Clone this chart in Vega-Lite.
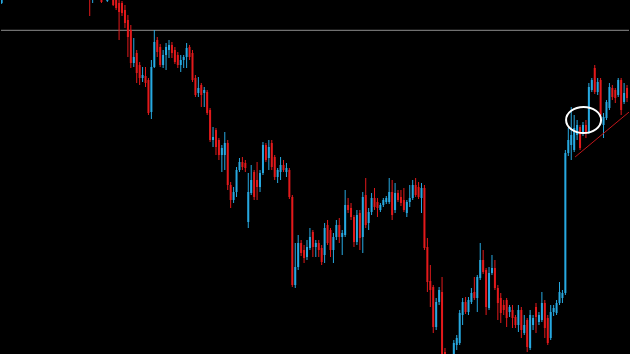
{
  "$schema": "https://vega.github.io/schema/vega-lite/v6.json",
  "width": 630,
  "height": 354,
  "autosize": {"type": "fit", "contains": "padding"},
  "padding": 0,
  "background": "#000000",
  "config": {"view": {"stroke": null}, "scale": {"continuousPadding": 0}},
  "datasets": {
    "level": [{"p": 323.7}],
    "trend": [{"t": 166.3, "p": 197}, {"t": 184.7, "p": 242}],
    "note": [{"t": 169.2, "p": 234}],
    "candles": [
      {"t": -29, "o": 351, "h": 362, "l": 350, "c": 359},
      {"t": 1, "o": 369, "h": 374, "l": 338, "c": 357},
      {"t": 2, "o": 354, "h": 368, "l": 351, "c": 364},
      {"t": 3, "o": 376, "h": 380, "l": 361, "c": 364},
      {"t": 4, "o": 362, "h": 376, "l": 360, "c": 372},
      {"t": 5, "o": 359, "h": 362, "l": 351, "c": 352},
      {"t": 6, "o": 356, "h": 366, "l": 355, "c": 362},
      {"t": 7, "o": 353, "h": 362, "l": 352, "c": 359},
      {"t": 8, "o": 362, "h": 366, "l": 356, "c": 358},
      {"t": 9, "o": 359, "h": 362, "l": 348, "c": 349},
      {"t": 10, "o": 354, "h": 357, "l": 344, "c": 346},
      {"t": 11, "o": 351, "h": 354, "l": 314, "c": 342},
      {"t": 12, "o": 351, "h": 353, "l": 338, "c": 341},
      {"t": 13, "o": 344, "h": 349, "l": 326, "c": 331},
      {"t": 14, "o": 334, "h": 339, "l": 297, "c": 317},
      {"t": 15, "o": 324, "h": 329, "l": 286, "c": 291},
      {"t": 16, "o": 291, "h": 316, "l": 287, "c": 297},
      {"t": 17, "o": 301, "h": 304, "l": 271, "c": 281},
      {"t": 18, "o": 289, "h": 292, "l": 269, "c": 276},
      {"t": 19, "o": 276, "h": 287, "l": 272, "c": 279},
      {"t": 20, "o": 278, "h": 287, "l": 267, "c": 271},
      {"t": 21, "o": 274, "h": 276, "l": 239, "c": 241},
      {"t": 22, "o": 242, "h": 294, "l": 235, "c": 287},
      {"t": 23, "o": 287, "h": 324, "l": 286, "c": 312},
      {"t": 24, "o": 314, "h": 317, "l": 297, "c": 302},
      {"t": 25, "o": 307, "h": 310, "l": 287, "c": 289},
      {"t": 26, "o": 289, "h": 304, "l": 286, "c": 299},
      {"t": 27, "o": 299, "h": 311, "l": 284, "c": 307},
      {"t": 28, "o": 304, "h": 314, "l": 296, "c": 309},
      {"t": 29, "o": 309, "h": 312, "l": 296, "c": 301},
      {"t": 30, "o": 304, "h": 307, "l": 290, "c": 292},
      {"t": 31, "o": 299, "h": 302, "l": 286, "c": 289},
      {"t": 32, "o": 289, "h": 299, "l": 282, "c": 294},
      {"t": 33, "o": 294, "h": 299, "l": 286, "c": 297},
      {"t": 34, "o": 297, "h": 311, "l": 286, "c": 306},
      {"t": 35, "o": 307, "h": 309, "l": 294, "c": 297},
      {"t": 36, "o": 301, "h": 304, "l": 272, "c": 274},
      {"t": 37, "o": 276, "h": 279, "l": 257, "c": 259},
      {"t": 38, "o": 261, "h": 277, "l": 257, "c": 266},
      {"t": 39, "o": 269, "h": 271, "l": 247, "c": 259},
      {"t": 40, "o": 261, "h": 267, "l": 247, "c": 264},
      {"t": 41, "o": 262, "h": 264, "l": 239, "c": 241},
      {"t": 42, "o": 244, "h": 246, "l": 212, "c": 214},
      {"t": 43, "o": 214, "h": 227, "l": 207, "c": 217},
      {"t": 44, "o": 224, "h": 226, "l": 199, "c": 207},
      {"t": 45, "o": 214, "h": 216, "l": 194, "c": 199},
      {"t": 46, "o": 199, "h": 209, "l": 182, "c": 206},
      {"t": 47, "o": 199, "h": 222, "l": 184, "c": 211},
      {"t": 48, "o": 211, "h": 214, "l": 164, "c": 169},
      {"t": 49, "o": 169, "h": 172, "l": 146, "c": 154},
      {"t": 50, "o": 154, "h": 167, "l": 151, "c": 162},
      {"t": 51, "o": 162, "h": 187, "l": 157, "c": 184},
      {"t": 52, "o": 184, "h": 196, "l": 182, "c": 192},
      {"t": 53, "o": 192, "h": 197, "l": 184, "c": 187},
      {"t": 54, "o": 191, "h": 194, "l": 182, "c": 186},
      {"t": 55, "o": 132, "h": 181, "l": 126, "c": 162},
      {"t": 56, "o": 161, "h": 189, "l": 159, "c": 174},
      {"t": 57, "o": 182, "h": 184, "l": 154, "c": 157},
      {"t": 58, "o": 174, "h": 192, "l": 154, "c": 167},
      {"t": 59, "o": 167, "h": 184, "l": 162, "c": 181},
      {"t": 60, "o": 181, "h": 212, "l": 179, "c": 209},
      {"t": 61, "o": 209, "h": 211, "l": 192, "c": 194},
      {"t": 62, "o": 196, "h": 214, "l": 184, "c": 207},
      {"t": 63, "o": 211, "h": 214, "l": 184, "c": 187},
      {"t": 64, "o": 197, "h": 199, "l": 174, "c": 177},
      {"t": 65, "o": 177, "h": 186, "l": 171, "c": 184},
      {"t": 66, "o": 182, "h": 197, "l": 174, "c": 189},
      {"t": 67, "o": 189, "h": 194, "l": 182, "c": 184},
      {"t": 68, "o": 182, "h": 191, "l": 177, "c": 186},
      {"t": 69, "o": 184, "h": 186, "l": 155, "c": 157},
      {"t": 70, "o": 157, "h": 159, "l": 67, "c": 69},
      {"t": 71, "o": 69, "h": 111, "l": 66, "c": 87},
      {"t": 72, "o": 87, "h": 119, "l": 84, "c": 111},
      {"t": 73, "o": 111, "h": 114, "l": 98, "c": 101},
      {"t": 74, "o": 104, "h": 109, "l": 91, "c": 96},
      {"t": 75, "o": 97, "h": 114, "l": 94, "c": 107},
      {"t": 76, "o": 106, "h": 126, "l": 104, "c": 117},
      {"t": 77, "o": 122, "h": 124, "l": 97, "c": 107},
      {"t": 78, "o": 107, "h": 114, "l": 97, "c": 111},
      {"t": 79, "o": 111, "h": 114, "l": 97, "c": 104},
      {"t": 80, "o": 106, "h": 109, "l": 89, "c": 92},
      {"t": 81, "o": 99, "h": 131, "l": 91, "c": 126},
      {"t": 82, "o": 129, "h": 134, "l": 109, "c": 111},
      {"t": 83, "o": 124, "h": 126, "l": 97, "c": 104},
      {"t": 84, "o": 104, "h": 121, "l": 91, "c": 117},
      {"t": 85, "o": 117, "h": 134, "l": 114, "c": 129},
      {"t": 86, "o": 129, "h": 136, "l": 111, "c": 117},
      {"t": 87, "o": 117, "h": 124, "l": 99, "c": 121},
      {"t": 88, "o": 119, "h": 164, "l": 117, "c": 149},
      {"t": 89, "o": 149, "h": 156, "l": 141, "c": 144},
      {"t": 90, "o": 146, "h": 151, "l": 134, "c": 137},
      {"t": 91, "o": 137, "h": 139, "l": 107, "c": 112},
      {"t": 92, "o": 112, "h": 144, "l": 109, "c": 139},
      {"t": 93, "o": 141, "h": 144, "l": 104, "c": 116},
      {"t": 94, "o": 117, "h": 162, "l": 101, "c": 157},
      {"t": 95, "o": 159, "h": 176, "l": 126, "c": 129},
      {"t": 96, "o": 131, "h": 146, "l": 124, "c": 142},
      {"t": 97, "o": 142, "h": 161, "l": 139, "c": 156},
      {"t": 98, "o": 156, "h": 166, "l": 144, "c": 147},
      {"t": 99, "o": 152, "h": 156, "l": 137, "c": 146},
      {"t": 100, "o": 144, "h": 151, "l": 142, "c": 149},
      {"t": 101, "o": 149, "h": 156, "l": 147, "c": 154},
      {"t": 102, "o": 152, "h": 158, "l": 150, "c": 156},
      {"t": 103, "o": 152, "h": 176, "l": 150, "c": 162},
      {"t": 104, "o": 162, "h": 174, "l": 134, "c": 139},
      {"t": 105, "o": 144, "h": 171, "l": 141, "c": 161},
      {"t": 106, "o": 161, "h": 164, "l": 152, "c": 154},
      {"t": 107, "o": 157, "h": 164, "l": 148, "c": 151},
      {"t": 108, "o": 154, "h": 166, "l": 142, "c": 144},
      {"t": 109, "o": 141, "h": 154, "l": 137, "c": 152},
      {"t": 110, "o": 152, "h": 169, "l": 147, "c": 156},
      {"t": 111, "o": 156, "h": 174, "l": 154, "c": 169},
      {"t": 112, "o": 169, "h": 176, "l": 157, "c": 159},
      {"t": 113, "o": 167, "h": 172, "l": 155, "c": 157},
      {"t": 114, "o": 156, "h": 171, "l": 141, "c": 166},
      {"t": 115, "o": 166, "h": 169, "l": 104, "c": 106},
      {"t": 116, "o": 107, "h": 116, "l": 62, "c": 72},
      {"t": 117, "o": 73, "h": 89, "l": 47, "c": 64},
      {"t": 118, "o": 67, "h": 69, "l": 21, "c": 27},
      {"t": 119, "o": 27, "h": 56, "l": 24, "c": 52},
      {"t": 120, "o": 52, "h": 67, "l": 49, "c": 64},
      {"t": 121, "o": 62, "h": 77, "l": -11, "c": -6},
      {"t": 122, "o": 2, "h": 6, "l": -21, "c": -16},
      {"t": 123, "o": -16, "h": -14, "l": -34, "c": -30},
      {"t": 124, "o": -30, "h": -12, "l": -32, "c": -18},
      {"t": 125, "o": -6, "h": 14, "l": -11, "c": 11},
      {"t": 126, "o": 9, "h": 19, "l": 4, "c": 16},
      {"t": 127, "o": 11, "h": 44, "l": 9, "c": 41},
      {"t": 128, "o": 39, "h": 56, "l": 29, "c": 52},
      {"t": 129, "o": 52, "h": 57, "l": 40, "c": 42},
      {"t": 130, "o": 42, "h": 57, "l": 39, "c": 54},
      {"t": 131, "o": 52, "h": 66, "l": 50, "c": 61},
      {"t": 132, "o": 62, "h": 77, "l": 54, "c": 56},
      {"t": 133, "o": 56, "h": 79, "l": 42, "c": 77},
      {"t": 134, "o": 76, "h": 111, "l": 74, "c": 94},
      {"t": 135, "o": 94, "h": 104, "l": 80, "c": 82},
      {"t": 136, "o": 84, "h": 86, "l": 39, "c": 47},
      {"t": 137, "o": 46, "h": 87, "l": 44, "c": 81},
      {"t": 138, "o": 81, "h": 99, "l": 79, "c": 86},
      {"t": 139, "o": 86, "h": 94, "l": 64, "c": 66},
      {"t": 140, "o": 66, "h": 69, "l": 34, "c": 51},
      {"t": 141, "o": 56, "h": 61, "l": 31, "c": 41},
      {"t": 142, "o": 49, "h": 54, "l": 39, "c": 44},
      {"t": 143, "o": 54, "h": 56, "l": 27, "c": 36},
      {"t": 144, "o": 42, "h": 49, "l": 37, "c": 47},
      {"t": 145, "o": 44, "h": 49, "l": 26, "c": 36},
      {"t": 146, "o": 37, "h": 39, "l": 26, "c": 29},
      {"t": 147, "o": 29, "h": 49, "l": 22, "c": 44},
      {"t": 148, "o": 44, "h": 47, "l": 16, "c": 24},
      {"t": 149, "o": 21, "h": 39, "l": 19, "c": 29},
      {"t": 150, "o": 34, "h": 36, "l": 2, "c": 7},
      {"t": 151, "o": 6, "h": 44, "l": 4, "c": 39},
      {"t": 152, "o": 29, "h": 39, "l": 24, "c": 36},
      {"t": 153, "o": 47, "h": 51, "l": 21, "c": 37},
      {"t": 154, "o": 32, "h": 42, "l": 29, "c": 39},
      {"t": 155, "o": 34, "h": 62, "l": 32, "c": 51},
      {"t": 156, "o": 51, "h": 54, "l": 16, "c": 26},
      {"t": 157, "o": 36, "h": 39, "l": 9, "c": 11},
      {"t": 158, "o": 16, "h": 49, "l": 14, "c": 42},
      {"t": 159, "o": 42, "h": 49, "l": 38, "c": 46},
      {"t": 160, "o": 41, "h": 54, "l": 39, "c": 51},
      {"t": 161, "o": 51, "h": 72, "l": 49, "c": 62},
      {"t": 162, "o": 56, "h": 64, "l": 51, "c": 61},
      {"t": 163, "o": 61, "h": 204, "l": 59, "c": 201},
      {"t": 164, "o": 201, "h": 226, "l": 198, "c": 214},
      {"t": 165, "o": 209, "h": 247, "l": 194, "c": 219},
      {"t": 166, "o": 204, "h": 239, "l": 202, "c": 226},
      {"t": 167, "o": 219, "h": 234, "l": 214, "c": 229},
      {"t": 168, "o": 227, "h": 229, "l": 204, "c": 206},
      {"t": 169, "o": 221, "h": 232, "l": 218, "c": 229},
      {"t": 170, "o": 229, "h": 234, "l": 216, "c": 221},
      {"t": 171, "o": 222, "h": 271, "l": 220, "c": 267},
      {"t": 172, "o": 264, "h": 276, "l": 262, "c": 274},
      {"t": 173, "o": 286, "h": 289, "l": 260, "c": 262},
      {"t": 174, "o": 262, "h": 276, "l": 259, "c": 272},
      {"t": 175, "o": 274, "h": 276, "l": 236, "c": 239},
      {"t": 176, "o": 229, "h": 241, "l": 216, "c": 237},
      {"t": 177, "o": 236, "h": 254, "l": 234, "c": 252},
      {"t": 178, "o": 246, "h": 271, "l": 244, "c": 267},
      {"t": 179, "o": 266, "h": 269, "l": 254, "c": 257},
      {"t": 180, "o": 264, "h": 266, "l": 251, "c": 256},
      {"t": 181, "o": 259, "h": 276, "l": 257, "c": 274},
      {"t": 182, "o": 274, "h": 276, "l": 239, "c": 244},
      {"t": 183, "o": 252, "h": 271, "l": 250, "c": 261},
      {"t": 184, "o": 266, "h": 269, "l": 252, "c": 256}
    ]
  },
  "layer": [
    {
      "data": {"name": "level"},
      "mark": {"type": "rule", "color": "#8c8c8c", "strokeWidth": 1},
      "encoding": {
        "y": {"field": "p", "type": "quantitative", "scale": {"domain": [0, 354], "nice": false, "zero": false}, "axis": null}
      }
    },
    {
      "data": {"name": "candles"},
      "mark": {"type": "rule", "clip": true, "strokeWidth": 1},
      "encoding": {
        "x": {"field": "t", "type": "quantitative", "scale": {"domain": [-29.22, 184.67], "nice": false, "zero": false, "padding": 0}, "axis": null},
        "y": {"field": "l", "type": "quantitative", "scale": {"domain": [0, 354], "nice": false, "zero": false}, "axis": null},
        "y2": {"field": "h"},
        "color": {"condition": {"test": "datum.c >= datum.o", "value": "#27a9e1"}, "value": "#e3191b"}
      }
    },
    {
      "data": {"name": "candles"},
      "mark": {"type": "bar", "clip": true, "size": 2},
      "encoding": {
        "x": {"field": "t", "type": "quantitative", "scale": {"domain": [-29.22, 184.67], "nice": false, "zero": false, "padding": 0}, "axis": null},
        "y": {"field": "o", "type": "quantitative", "scale": {"domain": [0, 354], "nice": false, "zero": false}, "axis": null},
        "y2": {"field": "c"},
        "color": {"condition": {"test": "datum.c >= datum.o", "value": "#27a9e1"}, "value": "#e3191b"}
      }
    },
    {
      "data": {"name": "trend"},
      "mark": {"type": "line", "color": "#c0161a", "strokeWidth": 1, "clip": true},
      "encoding": {
        "x": {"field": "t", "type": "quantitative", "scale": {"domain": [-29.22, 184.67], "nice": false, "zero": false, "padding": 0}, "axis": null},
        "y": {"field": "p", "type": "quantitative", "scale": {"domain": [0, 354], "nice": false, "zero": false}, "axis": null}
      }
    },
    {
      "data": {"name": "note"},
      "mark": {
        "type": "point",
        "filled": false,
        "stroke": "#ffffff",
        "strokeWidth": 2,
        "opacity": 1,
        "size": 1225,
        "shape": "M 1 0 C 1 0.41 0.552 0.743 0 0.743 C -0.552 0.743 -1 0.41 -1 0 C -1 -0.41 -0.552 -0.743 0 -0.743 C 0.552 -0.743 1 -0.41 1 0 Z"
      },
      "encoding": {
        "x": {"field": "t", "type": "quantitative", "scale": {"domain": [-29.22, 184.67], "nice": false, "zero": false, "padding": 0}, "axis": null},
        "y": {"field": "p", "type": "quantitative", "scale": {"domain": [0, 354], "nice": false, "zero": false}, "axis": null}
      }
    }
  ]
}
